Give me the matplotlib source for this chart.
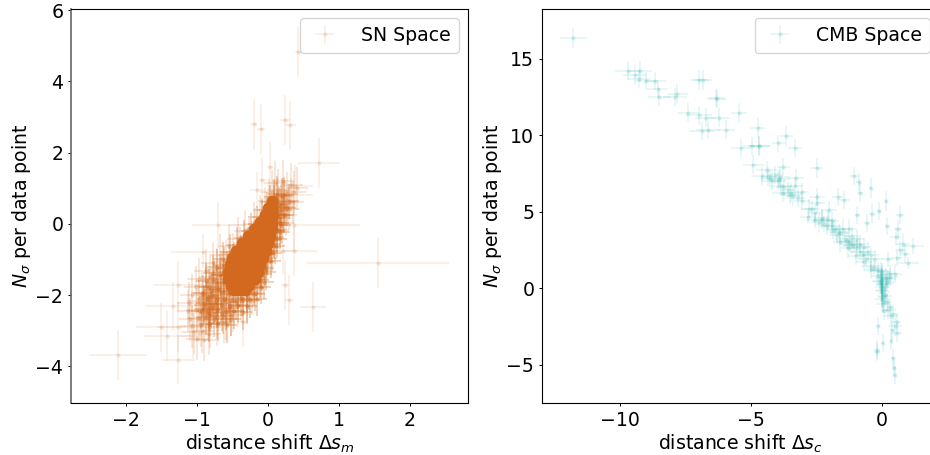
import matplotlib
matplotlib.use('Agg')
import matplotlib.pyplot as plt

ORANGE = '#D2691E'
TEAL = '#20B2AA'

# SN space: isolated points read one by one
sn_x = [0.42, -0.20, -0.10, 0.245, 0.315, 0.715, -0.085, -0.16, 0.03, 1.55, -2.12, -1.275, 0.63, 0.30, 0.24,
        0.36, 0.21, -0.70, 0.36, -0.92, -1.51, -1.42, -1.27, -1.06, -1.34, -1.27, -0.36, 0.38, 0.33]
sn_y = [4.82, 2.79, 2.67, 2.92, 2.76, 1.71, 1.24, 0.95, 1.6, -1.09, -3.68, -3.81, -2.33, -2.13, -1.72,
        -0.77, -0.75, -0.04, -0.04, -0.78, -2.91, -3.15, -2.9, -3.15, -2.32, -1.73, -2.76, 1.05, 0.8]
sn_xerr = [0.04, 0.05, 0.05, 0.07, 0.08, 0.30, 0.05, 0.10, 0.04, 1.0, 0.41, 0.24, 0.18, 0.07, 0.06,
           0.33, 0.2, 0.37, 0.93, 0.45, 0.35, 0.33, 0.3, 0.2, 0.4, 0.35, 0.08, 0.25, 0.3]
sn_yerr = [0.71, 0.71, 0.7, 0.7, 0.7, 0.7, 0.6, 0.5, 0.7, 0.7, 0.7, 0.7, 0.7, 0.7, 0.7,
           0.7, 0.7, 0.65, 0.7, 0.5, 0.7, 0.7, 0.7, 0.65, 0.7, 0.7, 0.7, 0.6, 0.5]

# SN space: sparse edge of the band
sn_band_x = [0.10, 0.21, 0.33, 0.41, 0.05, 0.14, 0.26, 0.37, 0.02, 0.12, 0.22, 0.35, -0.05, 0.08, 0.18, 0.29,
             -0.12, 0.02, 0.16, 0.25, -0.2, -0.08, 0.1, 0.2, -0.32, -0.18, 0.03, 0.13, -0.42, -0.27, -0.02, 0.08,
             -0.55, -0.4, -0.1, 0.02, -0.68, -0.5, -0.15, -0.03, -0.78, -0.6, -0.2, -0.08, -0.88, -0.72, -0.3, -0.12,
             -0.98, -0.82, -0.62, -0.38, -0.16, -1.02, -0.88, -0.7, -0.45, -0.22, -1.08, -0.93, -0.77, -0.52, -0.3,
             -1.12, -0.98, -0.82, -0.6, -0.38, -1.13, -1.0, -0.87, -0.7, -0.5, -1.1, -0.98, -0.85, -0.72, -0.6,
             -1.08, -0.95, -0.82, -0.72, -1.05, -0.93, -0.83, -1.0, -0.9, -0.42, -0.3, -0.52, -0.22, -0.62]
sn_band_y = [1.15, 1.2, 1.1, 1.0, 0.9, 0.95, 0.85, 0.88, 0.65, 0.7, 0.62, 0.6, 0.4, 0.45, 0.38, 0.42,
             0.2, 0.22, 0.15, 0.25, 0.0, 0.05, -0.02, 0.03, -0.2, -0.15, -0.25, -0.18, -0.42, -0.38, -0.45, -0.4,
             -0.62, -0.68, -0.6, -0.65, -0.88, -0.85, -0.9, -0.82, -1.1, -1.05, -1.15, -1.08, -1.32, -1.28, -1.35, -1.3,
             -1.55, -1.5, -1.58, -1.52, -1.55, -1.78, -1.75, -1.8, -1.72, -1.76, -2.0, -1.95, -2.02, -1.98, -1.96,
             -2.22, -2.18, -2.25, -2.2, -2.16, -2.45, -2.42, -2.48, -2.4, -2.44, -2.68, -2.65, -2.7, -2.62, -2.66,
             -2.88, -2.85, -2.9, -2.82, -3.05, -3.02, -3.08, -3.22, -3.25, -2.3, -2.15, -2.55, -1.95, -2.75]

# SN space: inner part of the band, close to the core
sn_inner_x = [0.12, 0.2, 0.08, 0.16, 0.24, 0.04, 0.13, 0.21, -0.02, 0.08, 0.17, -0.1, 0.03, 0.12,
              -0.18, -0.05, 0.08, -0.28, -0.12, 0.03, -0.38, -0.2, -0.02, -0.48, -0.3, -0.06, -0.58, -0.4, -0.1,
              -0.68, -0.5, -0.14, -0.74, -0.58, -0.2, -0.8, -0.62, -0.27, -0.85, -0.7, -0.35, -0.9, -0.75, -0.45,
              -0.92, -0.8, -0.55, -0.82, -0.65]
sn_inner_y = [0.85, 0.78, 0.58, 0.52, 0.48, 0.32, 0.28, 0.25, 0.08, 0.05, 0.02, -0.15, -0.18, -0.2,
              -0.38, -0.4, -0.42, -0.6, -0.62, -0.64, -0.82, -0.85, -0.86, -1.02, -1.05, -1.08, -1.25, -1.28, -1.3,
              -1.45, -1.48, -1.5, -1.65, -1.68, -1.72, -1.85, -1.88, -1.92, -2.05, -2.08, -2.1, -2.22, -2.25, -2.2,
              -2.38, -2.4, -2.35, -2.55, -2.5]

# SN space: crowded middle of the band
sn_mid_x = [0.08, 0.22, 0.03, 0.18, 0.3, -0.02, 0.14, 0.26, -0.08, 0.1, 0.22, -0.15, 0.06, 0.18,
            -0.24, -0.12, 0.1, 0.17, -0.34, -0.2, 0.07, 0.13, -0.44, -0.3, 0.04, 0.1, -0.54, -0.38, 0.0, 0.06,
            -0.64, -0.5, -0.02, 0.04, -0.72, -0.62, -0.05, -0.78, -0.66, -0.56, -0.08, -0.03,
            -0.88, -0.76, -0.64, -0.12, -0.06, -0.83, -0.7, -0.58, -0.2, -0.1, -0.92, -0.79, -0.67,
            -0.55, -0.43, -0.3, -0.18, -0.86, -0.74, -0.62, -0.5, -0.38, -0.26, -0.15, -0.9, -0.78, -0.66,
            -0.54, -0.42, -0.3, -0.95, -0.84, -0.72, -0.6, -0.48, -0.36, -0.88, -0.76, -0.64, -0.52, -0.83, -0.7, -0.58]
sn_mid_y = [0.75, 0.82, 0.6, 0.55, 0.63, 0.4, 0.36, 0.44, 0.2, 0.16, 0.24, 0.0, 0.03, -0.04,
            -0.2, -0.24, -0.17, -0.22, -0.4, -0.44, -0.37, -0.42, -0.6, -0.64, -0.57, -0.62, -0.8, -0.85, -0.77, -0.82,
            -1.0, -1.06, -0.97, -1.03, -1.2, -1.15, -1.24, -1.38, -1.43, -1.35, -1.4, -1.36,
            -1.6, -1.55, -1.63, -1.58, -1.62, -1.78, -1.82, -1.75, -1.8, -1.76, -1.95, -2.0, -1.92,
            -1.98, -1.93, -1.99, -1.96, -2.12, -2.18, -2.1, -2.15, -2.08, -2.13, -2.1, -2.28, -2.33, -2.25,
            -2.3, -2.27, -2.32, -2.45, -2.5, -2.42, -2.47, -2.44, -2.48, -2.62, -2.68, -2.6, -2.66, -2.82, -2.78, -2.85]

# SN space: saturated core, rows of points
sn_core_rows = [0.65, 0.45, 0.25, 0.05, -0.15, -0.35, -0.55, -0.75, -0.95, -1.15, -1.35, -1.55, -1.75, -1.85]
sn_core_x = [[0.06],
             [0.0, 0.06],
             [-0.05, 0.02, 0.07],
             [-0.11, -0.03, 0.06],
             [-0.2, -0.11, -0.02, 0.05],
             [-0.29, -0.2, -0.1, 0.03],
             [-0.37, -0.27, -0.16, -0.06, 0.0],
             [-0.45, -0.35, -0.24, -0.13, -0.03],
             [-0.51, -0.41, -0.3, -0.19, -0.07],
             [-0.54, -0.43, -0.32, -0.21, -0.11],
             [-0.56, -0.45, -0.34, -0.24, -0.14],
             [-0.56, -0.45, -0.35, -0.26, -0.18],
             [-0.53, -0.44, -0.36, -0.28],
             [-0.48, -0.4, -0.32]]

# CMB space
cmb_x = [-11.78, -9.71, -9.43, -9.24, -9.27, -9.02, -8.66, -8.56, -8.5, -7.9, -7.81, -6.97, -6.82, -7.39, -6.97,
         -6.72, -6.22, -5.46, -6.34, -6.88, -6.65, -5.95, -5.38, -4.95, -4.69, -4.72, -3.96, -3.66, -3.32, -4.91,
         -4.4, -4.59, -4.27, -3.92, -3.77, -3.29, -2.49, -3.79, -3.48, -3.07, -3.04, -2.49, -1.69, -1.43, -1.07,
         -0.88, -0.84, -0.43, 0.15, -6.3, -4.68, -3.9, -3.5, -3.85, -4.2]
cmb_y = [16.36, 14.23, 13.92, 14.2, 13.7, 13.53, 13.53, 12.99, 12.5, 12.5, 12.72, 13.6, 13.6, 11.48, 11.3,
         11.15, 11.15, 11.46, 12.44, 10.28, 10.33, 10.37, 9.17, 9.28, 9.32, 10.5, 9.46, 9.93, 9.17, 8.08,
         7.71, 7.34, 7.12, 7.12, 7.93, 7.21, 7.86, 6.23, 6.23, 6.3, 5.71, 5.97, 5.97, 5.75, 7.34,
         6.95, 6.25, 6.58, 5.69, 12.4, 9.3, 7.3, 6.1, 6.7, 7.0]
cmb_xerr = [0.5, 0.5, 0.45, 0.45, 0.45, 0.4, 0.4, 0.4, 0.45, 0.45, 0.4, 0.35, 0.35, 0.4, 0.5,
            0.4, 0.4, 0.3, 0.35, 0.5, 0.45, 0.35, 0.4, 0.4, 0.4, 0.3, 0.25, 0.25, 0.25, 0.4,
            0.4, 0.4, 0.4, 0.4, 0.25, 0.3, 0.25, 0.4, 0.4, 0.3, 0.3, 0.3, 0.2, 0.2, 0.2,
            0.1, 0.1, 0.05, 0.05, 0.35, 0.4, 0.4, 0.4, 0.4, 0.4]
cmb_yerr = [0.65, 0.65, 0.65, 0.65, 0.6, 0.6, 0.6, 0.6, 0.6, 0.6, 0.6, 0.65, 0.65, 0.6, 0.6,
            0.6, 0.6, 0.65, 0.6, 0.6, 0.6, 0.6, 0.6, 0.6, 0.65, 0.65, 0.55, 0.65, 0.6, 0.6,
            0.6, 0.6, 0.6, 0.6, 0.6, 0.6, 0.65, 0.6, 0.6, 0.6, 0.6, 0.6, 0.6, 0.6, 0.6,
            0.6, 0.6, 0.65, 0.65, 0.6, 0.6, 0.6, 0.6, 0.6, 0.6]

# CMB space: curve down to zero and the stem below it
cmb_low_x = [-0.94, -0.58, -0.39, -0.11, 0.2, 0.7, 0.63, 0.52, 0.79, 1.19, 0.69, 0.88, 0.56, 1.0, 0.22,
             -2.66, -2.47, -2.81, -2.3, -2.01, -2.05, -2.56, -1.79, -1.41, -1.13, -0.97, -0.74, -0.43, -0.43,
             -1.6, -1.25, -1.05, -0.85, -0.62, -0.3, -0.15, -2.2, -1.9, -1.65, -1.35, -1.2,
             -0.01, -0.01, -0.01, -0.01, -0.01, 0.02, -0.03, 0.0, 0.03, -0.02, 0.01, 0.31, 0.5, 0.11, 0.31, 0.43,
             0.08, -0.14, 0.56, 0.58, 0.37, 0.34, 0.03, -0.2, 0.41, 0.45, 0.49, 0.2, 0.25, 0.15, -0.19, 0.05]
cmb_low_y = [4.77, 4.25, 4.88, 5.03, 4.07, 4.77, 3.84, 3.35, 2.92, 2.76, 2.48, 2.22, 1.98, 1.65, 1.9,
             5.21, 5.54, 4.66, 4.49, 5.1, 4.49, 4.44, 3.9, 3.25, 2.75, 2.66, 2.16, 2.16, 1.44,
             3.6, 3.0, 2.85, 2.4, 1.9, 1.35, 1.2, 4.2, 4.1, 3.7, 3.1, 2.9,
             0.85, 0.55, 0.2, -0.13, -0.57, 1.05, 0.4, 0.7, 0.0, 0.3, -0.3, 0.74, 0.96, -0.46, -1.22, -1.7,
             -1.5, -2.48, -2.2, -2.9, -2.75, -3.44, -3.58, -4.01, -4.56, -5.18, -5.69, -0.9, 0.6, 0.3, -4.15, -0.85]
cmb_low_xerr = [0.1, 0.1, 0.1, 0.08, 0.08, 0.15, 0.15, 0.2, 0.25, 0.4, 0.2, 0.2, 0.2, 0.4, 0.2,
                0.3, 0.3, 0.3, 0.35, 0.3, 0.3, 0.35, 0.35, 0.4, 0.4, 0.4, 0.3, 0.3, 0.35,
                0.4, 0.4, 0.35, 0.35, 0.3, 0.3, 0.3, 0.35, 0.35, 0.35, 0.4, 0.4,
                0.2, 0.2, 0.2, 0.2, 0.15, 0.3, 0.3, 0.25, 0.15, 0.2, 0.15, 0.3, 0.3, 0.12, 0.12, 0.15,
                0.12, 0.08, 0.15, 0.2, 0.08, 0.05, 0.05, 0.1, 0.05, 0.08, 0.05, 0.1, 0.3, 0.3, 0.1, 0.12]
cmb_low_yerr = [0.6, 0.6, 0.6, 0.6, 0.6, 0.6, 0.6, 0.6, 0.6, 0.5, 0.6, 0.6, 0.5, 0.4, 0.5,
                0.5, 0.6, 0.4, 0.6, 0.6, 0.6, 0.5, 0.5, 0.5, 0.5, 0.5, 0.5, 0.5, 0.4,
                0.5, 0.5, 0.5, 0.5, 0.5, 0.5, 0.5, 0.5, 0.5, 0.5, 0.5, 0.5,
                0.7, 0.7, 0.7, 0.7, 0.7, 0.6, 0.6, 0.6, 0.7, 0.7, 0.7, 0.6, 0.6, 0.6, 0.6, 0.6,
                0.6, 0.6, 0.6, 0.6, 0.6, 0.6, 0.6, 0.6, 0.6, 0.6, 0.6, 0.6, 0.6, 0.6, 0.6, 0.6]

# CMB space: crowded stretches of the curve
cmb_dense_x = [-2.3, -2.1, -1.9, -1.7, -1.5, -1.3, -1.15, -1.0, -0.85, -0.7, -0.55, -0.4, -0.25, -0.15, -0.08, 0.0,
               0.02, 0.0, 0.06, 0.15, 0.3, 0.2, -0.05, 0.1, 0.25, 0.35, 0.5, -3.3, -3.6, -3.2, -3.95, -4.1,
               -4.35, -3.75, -3.4, -2.8, -2.4, -2.55, -1.25, -0.95, -1.6, -1.85, -0.7]
cmb_dense_y = [4.6, 4.1, 4.4, 3.5, 3.9, 2.6, 3.4, 2.1, 2.9, 1.7, 2.4, 1.2, 1.9, 0.8, 0.5, 0.1,
               -0.2, -0.7, -1.0, 0.7, 0.9, 0.4, 1.1, -0.5, -1.4, -1.8, -2.5, 6.7, 6.4, 5.9, 7.0, 7.4,
               7.3, 6.6, 6.0, 5.2, 4.3, 4.9, 3.9, 3.2, 3.0, 3.8, 2.7]

plt.rcParams['font.size'] = 13.6

fig = plt.figure(figsize=(9.3, 4.55), dpi=100)
ax1 = fig.add_axes([71 / 930, 1 - 403 / 455, 397 / 930, 394 / 455])
ax2 = fig.add_axes([542 / 930, 1 - 403 / 455, 397 / 930, 394 / 455])

kw = dict(fmt='.', markersize=4.5, elinewidth=1.4, capsize=0)

# Left panel
ax1.errorbar(sn_x, sn_y, xerr=sn_xerr, yerr=sn_yerr, color=ORANGE, alpha=0.1, label='SN Space', **kw)
ax1.errorbar(sn_band_x, sn_band_y, xerr=0.16, yerr=0.6, color=ORANGE, alpha=0.17, **kw)
ax1.errorbar(sn_inner_x, sn_inner_y, xerr=0.12, yerr=0.5, color=ORANGE, alpha=0.3, **kw)
ax1.errorbar(sn_mid_x, sn_mid_y, xerr=0.14, yerr=0.5, color=ORANGE, alpha=0.3, **kw)
for row, xs in zip(sn_core_rows, sn_core_x):
    ax1.plot(xs, [row] * len(xs), 'o', color=ORANGE, markersize=8.5, markeredgewidth=0)
ax1.set_xlim(-2.78, 2.82)
ax1.set_ylim(-5.03, 6.03)
ax1.set_xticks([-2, -1, 0, 1, 2])
ax1.set_yticks([-4, -2, 0, 2, 4, 6])
ax1.set_xlabel(r'distance shift $\Delta s_m$', labelpad=2)
ax1.set_ylabel(r'$N_\sigma$ per data point', labelpad=2)
ax1.legend(loc='upper right', handlelength=1.85, handletextpad=1.0)

# Right panel
ax2.errorbar(cmb_x, cmb_y, xerr=cmb_xerr, yerr=cmb_yerr, color=TEAL, alpha=0.11, label='CMB Space', **kw)
ax2.errorbar(cmb_low_x, cmb_low_y, xerr=cmb_low_xerr, yerr=cmb_low_yerr, color=TEAL, alpha=0.11, **kw)
ax2.errorbar(cmb_dense_x, cmb_dense_y, xerr=0.28, yerr=0.6, color=TEAL, alpha=0.11, **kw)
ax2.set_xlim(-12.98, 2.18)
ax2.set_ylim(-7.5, 18.25)
ax2.set_xticks([-10, -5, 0])
ax2.set_yticks([-5, 0, 5, 10, 15])
ax2.set_xlabel(r'distance shift $\Delta s_c$', labelpad=2)
ax2.set_ylabel(r'$N_\sigma$ per data point', labelpad=2)
ax2.legend(loc='upper right', handlelength=1.85, handletextpad=1.0)

for ax in [ax1, ax2]:
    ax.tick_params(length=2.5, width=0.7, pad=3)
ax1.spines['left'].set_color('#666666')
ax1.spines['left'].set_linewidth(1.2)

plt.savefig('out.png', dpi=100)
